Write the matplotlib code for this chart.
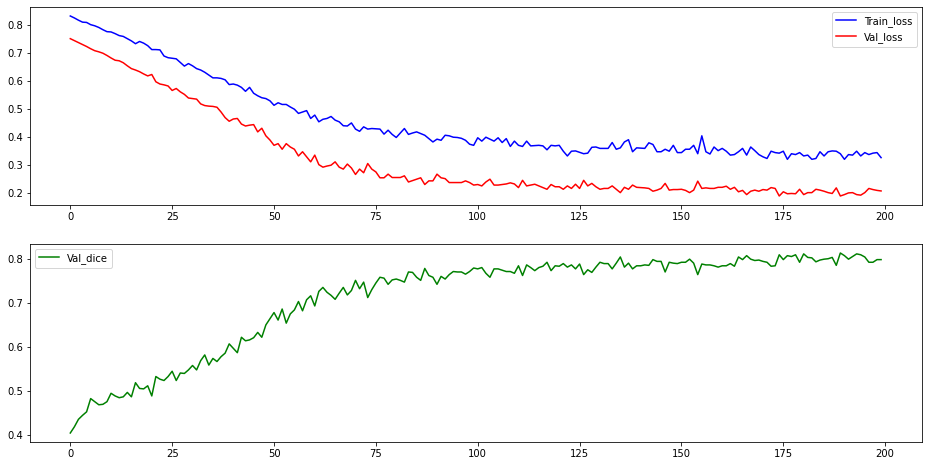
import numpy as np
import matplotlib
matplotlib.use("Agg")
import matplotlib.pyplot as plt

# values, one per epoch (0..199)
train_loss = [
    .833, .826, .818, .811, .810, .802, .798, .792, .784, .777,
    .776, .770, .763, .760, .752, .744, .734, .742, .736, .727,
    .713, .713, .712, .690, .684, .682, .680, .667, .654, .663,
    .655, .645, .640, .632, .622, .612, .612, .610, .605, .588,
    .590, .586, .578, .564, .578, .557, .548, .541, .538, .530,
    .514, .523, .517, .517, .508, .500, .485, .490, .495, .467,
    .479, .455, .464, .467, .474, .461, .455, .441, .440, .451,
    .429, .421, .437, .429, .431, .430, .429, .411, .425, .410,
    .399, .415, .431, .410, .415, .419, .413, .407, .395, .383,
    .393, .389, .407, .405, .400, .399, .396, .389, .375, .371,
    .398, .386, .400, .393, .386, .398, .381, .395, .367, .386,
    .371, .367, .386, .369, .370, .371, .369, .355, .371, .369,
    .371, .350, .333, .350, .351, .346, .341, .343, .364, .365,
    .360, .360, .360, .381, .357, .362, .383, .391, .348, .362,
    .361, .360, .380, .374, .348,
    .348, .357, .350, .371, .345, .345, .357, .357, .371, .341,
    .405, .348, .340, .365, .352, .360, .350, .336, .338, .348,
    .360, .336, .365, .352, .338, .330, .324, .350, .345, .343,
    .350, .321, .341, .338, .345, .333, .336, .321, .324, .348,
    .333, .348, .351, .350, .341, .321, .338, .336, .350, .333,
    .345, .338, .343, .345, .327,
]

val_loss = [
    .752, .745, .738, .731, .724, .716, .709, .705, .700, .692,
    .683, .675, .673, .666, .655, .645, .640, .634, .626, .619,
    .624, .598, .590, .587, .583, .567, .574, .562, .553, .540,
    .538, .536, .519, .513, .511, .510, .507, .490, .470, .457,
    .465, .467, .447, .440, .443, .445, .419, .432, .405, .390,
    .371, .377, .357, .377, .365, .357, .333, .348, .330, .312,
    .336, .302, .293, .297, .300, .312, .293, .286, .304, .290,
    .267, .286, .273, .306, .286, .276, .255, .255, .268, .256,
    .256, .256, .262, .240, .245, .250, .255, .231, .244, .244,
    .268, .255, .252, .238, .238, .238, .238, .244, .238, .229,
    .231, .226, .240, .250, .229, .229, .231, .233, .237, .233,
    .220, .246, .226, .229, .232, .226, .220, .214, .231, .223,
    .223, .214, .226, .217, .232, .217, .246, .226, .235, .223,
    .214, .217, .217, .226, .214, .202, .221, .214, .229, .221,
    .220, .219, .217, .207, .211,
    .217, .235, .211, .213, .213, .214, .210, .202, .211, .243,
    .217, .219, .217, .217, .221, .221, .225, .214, .221, .205,
    .210, .195, .207, .211, .207, .213, .211, .220, .217, .190,
    .205, .198, .199, .198, .214, .195, .202, .202, .214, .211,
    .207, .202, .199, .219, .190, .195, .201, .202, .195, .193,
    .202, .217, .213, .210, .208,
]

val_dice = [
    .405, .419, .436, .445, .453, .483, .476, .469, .470, .476,
    .495, .489, .485, .487, .497, .487, .519, .506, .505, .512,
    .489, .533, .527, .524, .533, .545, .524, .541, .540, .548,
    .558, .548, .569, .582, .559, .574, .567, .578, .586, .607,
    .597, .587, .622, .614, .616, .621, .633, .622, .650, .664,
    .678, .661, .686, .654, .675, .684, .703, .682, .707, .716,
    .693, .726, .735, .724, .717, .708, .722, .735, .718, .728,
    .751, .732, .747, .712, .730, .745, .758, .756, .742, .752,
    .754, .751, .747, .770, .769, .758, .751, .778, .762, .758,
    .742, .760, .754, .764, .771, .770, .770, .765, .771,
    .779, .777, .780, .767, .758, .777, .777, .774, .771, .771,
    .767, .784, .762, .786, .780, .773, .780, .783, .792, .773,
    .784, .783, .789, .781, .786, .777, .788, .764, .775, .769,
    .781, .792, .789, .789, .777, .790, .804, .781, .790, .777,
    .784, .784, .786, .785, .798, .794,
    .794, .770, .792, .790, .789, .792, .792, .799, .790, .764,
    .788, .786, .786, .784, .781, .784, .784, .789, .783, .804,
    .798, .807, .799, .796, .797, .794, .792, .783, .784, .809,
    .798, .807, .805, .809, .792, .811, .803, .802, .793, .797,
    .799, .800, .803, .785, .813, .807, .799, .805, .811, .809,
    .804, .792, .792, .798, .798,
]

fig, (ax1, ax2) = plt.subplots(2, 1, figsize=(930 / 72, 466 / 72), dpi=72)
fig.subplots_adjust(left=0.032, right=0.991, top=0.985, bottom=0.0515, hspace=0.197)

ax1.plot(np.arange(len(train_loss)), train_loss, color='b', label='Train_loss')
ax1.plot(np.arange(len(val_loss)), val_loss, color='r', label='Val_loss')
ax1.legend(loc='upper right')

ax2.plot(np.arange(len(val_dice)), val_dice, color='g', label='Val_dice')
ax2.set_yticks([0.4, 0.5, 0.6, 0.7, 0.8])
ax2.legend(loc='upper left')

fig.savefig('out.png')
